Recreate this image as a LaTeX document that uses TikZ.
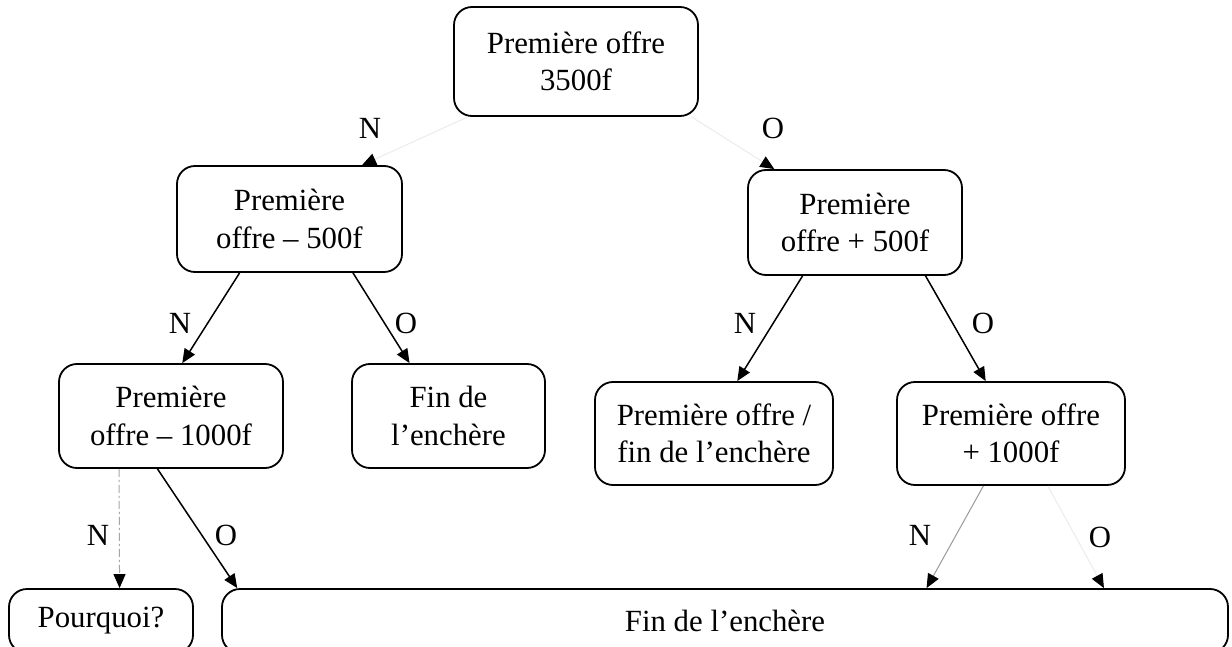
\documentclass[tikz,border=0pt]{standalone}
\usepackage{fontspec}
\setmainfont{Liberation Serif}
\usetikzlibrary{arrows.meta,calc}
\begin{document}
\begin{tikzpicture}[x=0.5pt,y=-0.5pt,
  box/.style={draw, line width=0.9pt, rounded corners=9pt, align=center, inner sep=0pt, font=\fontsize{15.4}{18.6}\selectfont},
  lbl/.style={font=\fontsize{15.4}{18}\selectfont, inner sep=0pt},
  arr/.style={line width=0.75pt, -{Triangle[length=7pt,width=6pt]}},
  faint/.style={draw=black!8, line width=0.5pt, -{Triangle[length=7pt,width=6pt,color=black,fill=black]}},
  grayarr/.style={draw=black!40, line width=0.5pt, -{Triangle[length=7pt,width=6pt,color=black,fill=black]}},
  dotarr/.style={draw=black!35, line width=0.5pt, dash pattern=on 4pt off 1.5pt on 1pt off 1.5pt, -{Triangle[length=7pt,width=6pt,color=black,fill=black]}},
]
\useasboundingbox (0,0) rectangle (1232,647);

\node[box, minimum width=122pt, minimum height=54.5pt] (top) at (576,61.5) {Première offre\\3500f};
\node[box, minimum width=112.5pt, minimum height=53pt] (n2) at (289.5,219) {Première\\offre – 500f};
\node[box, minimum width=107pt, minimum height=52.5pt] (n3) at (855,222.5) {Première\\offre + 500f};
\node[box, minimum width=112pt, minimum height=52pt] (n4) at (171,416) {Première\\offre – 1000f};
\node[box, minimum width=96.5pt, minimum height=52pt] (n5) at (448.5,416) {Fin de\\l’enchère};
\node[box, minimum width=119pt, minimum height=51.5pt] (n6) at (714,433.5) {Première offre /\\fin de l’enchère};
\node[box, minimum width=114pt, minimum height=51.5pt] (n7) at (1011,433.5) {Première offre\\+ 1000f};
\node[box, minimum width=92pt, minimum height=32pt] (n8) at (101,621) {Pourquoi?};
\node[box, minimum width=503pt, minimum height=32pt] (n9) at (725,621) {Fin de l’enchère};

% top level (faint in the scan)
\draw[faint] ($(top.south west)!0.06!(top.south east)$) -- ($(n2.north west)!0.82!(n2.north east)$);
\draw[faint] ($(top.south west)!0.97!(top.south east)$) -- ($(n3.north west)!0.126!(n3.north east)$);
\node[lbl] (lN1) at (370,128) {N};
\node[lbl] (lO1) at (773,128) {O};

% second level
\draw[arr] ($(n2.south west)!0.28!(n2.south east)$) -- ($(n4.north west)!0.55!(n4.north east)$);
\draw[arr] ($(n2.south west)!0.78!(n2.south east)$) -- ($(n5.north west)!0.30!(n5.north east)$);
\draw[arr] ($(n3.south west)!0.257!(n3.south east)$) -- ($(n6.north west)!0.597!(n6.north east)$);
\draw[arr] ($(n3.south west)!0.827!(n3.south east)$) -- ($(n7.north west)!0.39!(n7.north east)$);
\node[lbl] (lN2) at (180,323) {N};
\node[lbl] (lO2) at (406,323) {O};
\node[lbl] (lN3) at (745,323) {N};
\node[lbl] (lO3) at (983,323) {O};

% third level
\draw[dotarr] ($(n4.south west)!0.27!(n4.south east)$) -- ($(n8.north west)!0.60!(n8.north east)$);
\draw[arr] ($(n4.south west)!0.44!(n4.south east)$) -- ($(n9.north west)!0.016!(n9.north east)$);
\draw[grayarr] ($(n7.south west)!0.38!(n7.south east)$) -- ($(n9.north west)!0.70!(n9.north east)$);
\draw[faint] ($(n7.south west)!0.66!(n7.south east)$) -- ($(n9.north west)!0.876!(n9.north east)$);
\node[lbl] (lN4) at (98,535) {N};
\node[lbl] (lO4) at (226,535) {O};
\node[lbl] (lN5) at (920,535) {N};
\node[lbl] (lO5) at (1100,537) {O};
\end{tikzpicture}
\end{document}
